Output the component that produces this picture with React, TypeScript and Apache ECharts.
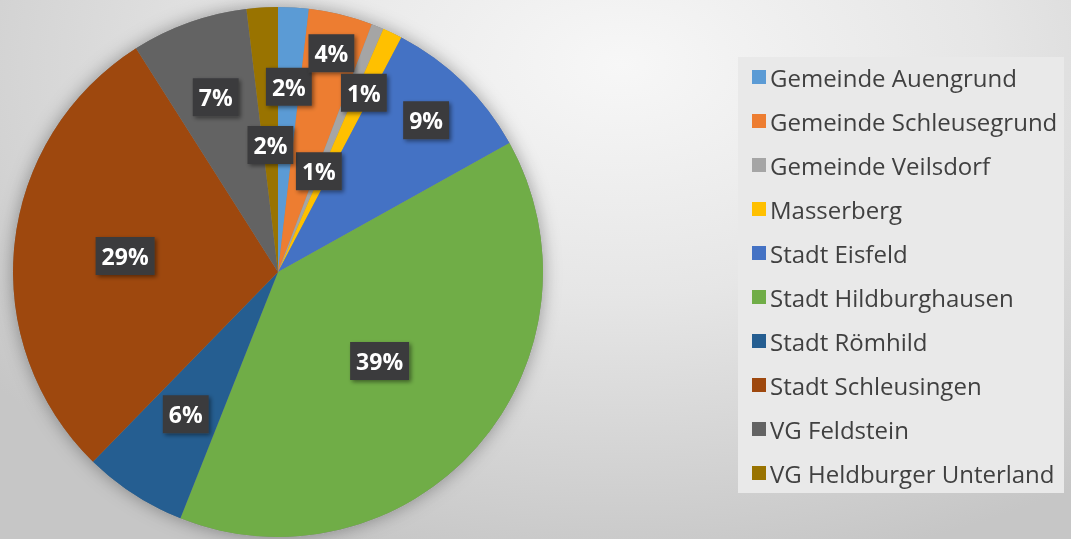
import React, { useEffect, useRef } from "react";
import * as echarts from "echarts";

const categories = [
  "Gemeinde Auengrund",
  "Gemeinde Schleusegrund",
  "Gemeinde Veilsdorf",
  "Masserberg",
  "Stadt Eisfeld",
  "Stadt Hildburghausen",
  "Stadt Römhild",
  "Stadt Schleusingen",
  "VG Feldstein",
  "VG Heldburger Unterland",
];
const values = [1.86, 3.9, 0.75, 1.2, 9.2, 39.1, 6.3, 28.7, 7.1, 1.9];
const colors = [
  "#5B9BD5",
  "#ED7D31",
  "#A5A5A5",
  "#FFC000",
  "#4472C4",
  "#70AD47",
  "#255E91",
  "#9E480E",
  "#636363",
  "#997300",
];
// label distance from centre as fraction of radius
const labelRadius = [0.7, 0.85, 0.41, 0.75, 0.8, 0.51, 0.64, 0.58, 0.7, 0.48];

const CX = 278;
const CY = 272;
const R = 265;

export default function App() {
  const ref = useRef<HTMLDivElement>(null);
  useEffect(() => {
    if (!ref.current) return;
    const chart = echarts.init(ref.current, null, { renderer: "svg" });
    chart.setOption({
      animation: false,
      color: colors,
      graphic: [
        {
          type: "rect",
          shape: { x: 738, y: 57, width: 326, height: 436 },
          style: { fill: "#e9e9e9" },
          z: -1,
        },
      ],
      legend: {
        orient: "vertical",
        left: 747,
        top: 60,
        icon: "rect",
        itemWidth: 14,
        itemHeight: 14,
        itemGap: 20,
        textStyle: {
          fontFamily: "Open Sans",
          fontSize: 24,
          color: "#404040",
          padding: [0, 0, 0, -1],
        },
        data: categories,
      },
      series: [
        {
          type: "pie",
          silent: true,
          center: [CX, CY],
          radius: R,
          z: 1,
          label: { show: false },
          labelLine: { show: false },
          itemStyle: {
            color: "#888",
            shadowBlur: 18,
            shadowColor: "rgba(0,0,0,0.35)",
          },
          data: [{ value: 1, name: "__shadow" }],
          legendHoverLink: false,
        },
        {
          type: "pie",
          center: [CX, CY],
          radius: R,
          z: 2,
          startAngle: 90,
          clockwise: true,
          percentPrecision: 0,
          itemStyle: { borderWidth: 0 },
          label: {
            show: true,
            position: "inside",
            formatter: "{d}%",
            fontFamily: "Open Sans",
            fontWeight: "bold",
            fontSize: 23,
            color: "#ffffff",
            backgroundColor: "#3b3b3d",
            padding: [5, 6, 3, 6],
            lineHeight: 30,
            shadowBlur: 4,
            shadowColor: "rgba(0,0,0,0.45)",
            shadowOffsetX: 2,
            shadowOffsetY: 2,
          },
          labelLine: { show: false },
          labelLayout: (params: any) => {
            const i = params.dataIndex;
            const r = params.labelRect;
            const lx = r.x + r.width / 2;
            const ly = r.y + r.height / 2;
            const vx = lx - CX;
            const vy = ly - CY;
            const len = Math.sqrt(vx * vx + vy * vy) || 1;
            const tx = CX + (vx / len) * R * labelRadius[i];
            const ty = CY + (vy / len) * R * labelRadius[i];
            return { dx: tx - lx, dy: ty - ly };
          },
          data: categories.map((name, i) => ({ name, value: values[i] })),
        },
      ],
    });
    return () => chart.dispose();
  }, []);
  return (
    <div
      ref={ref}
      style={{
        position: "fixed",
        left: 0,
        top: 0,
        width: 1071,
        height: 539,
        background:
          "radial-gradient(ellipse 75% 95% at 58% 12%, #f7f7f7 0%, #e6e6e6 45%, #d2d2d2 80%, #c6c6c6 100%)",
      }}
    />
  );
}
